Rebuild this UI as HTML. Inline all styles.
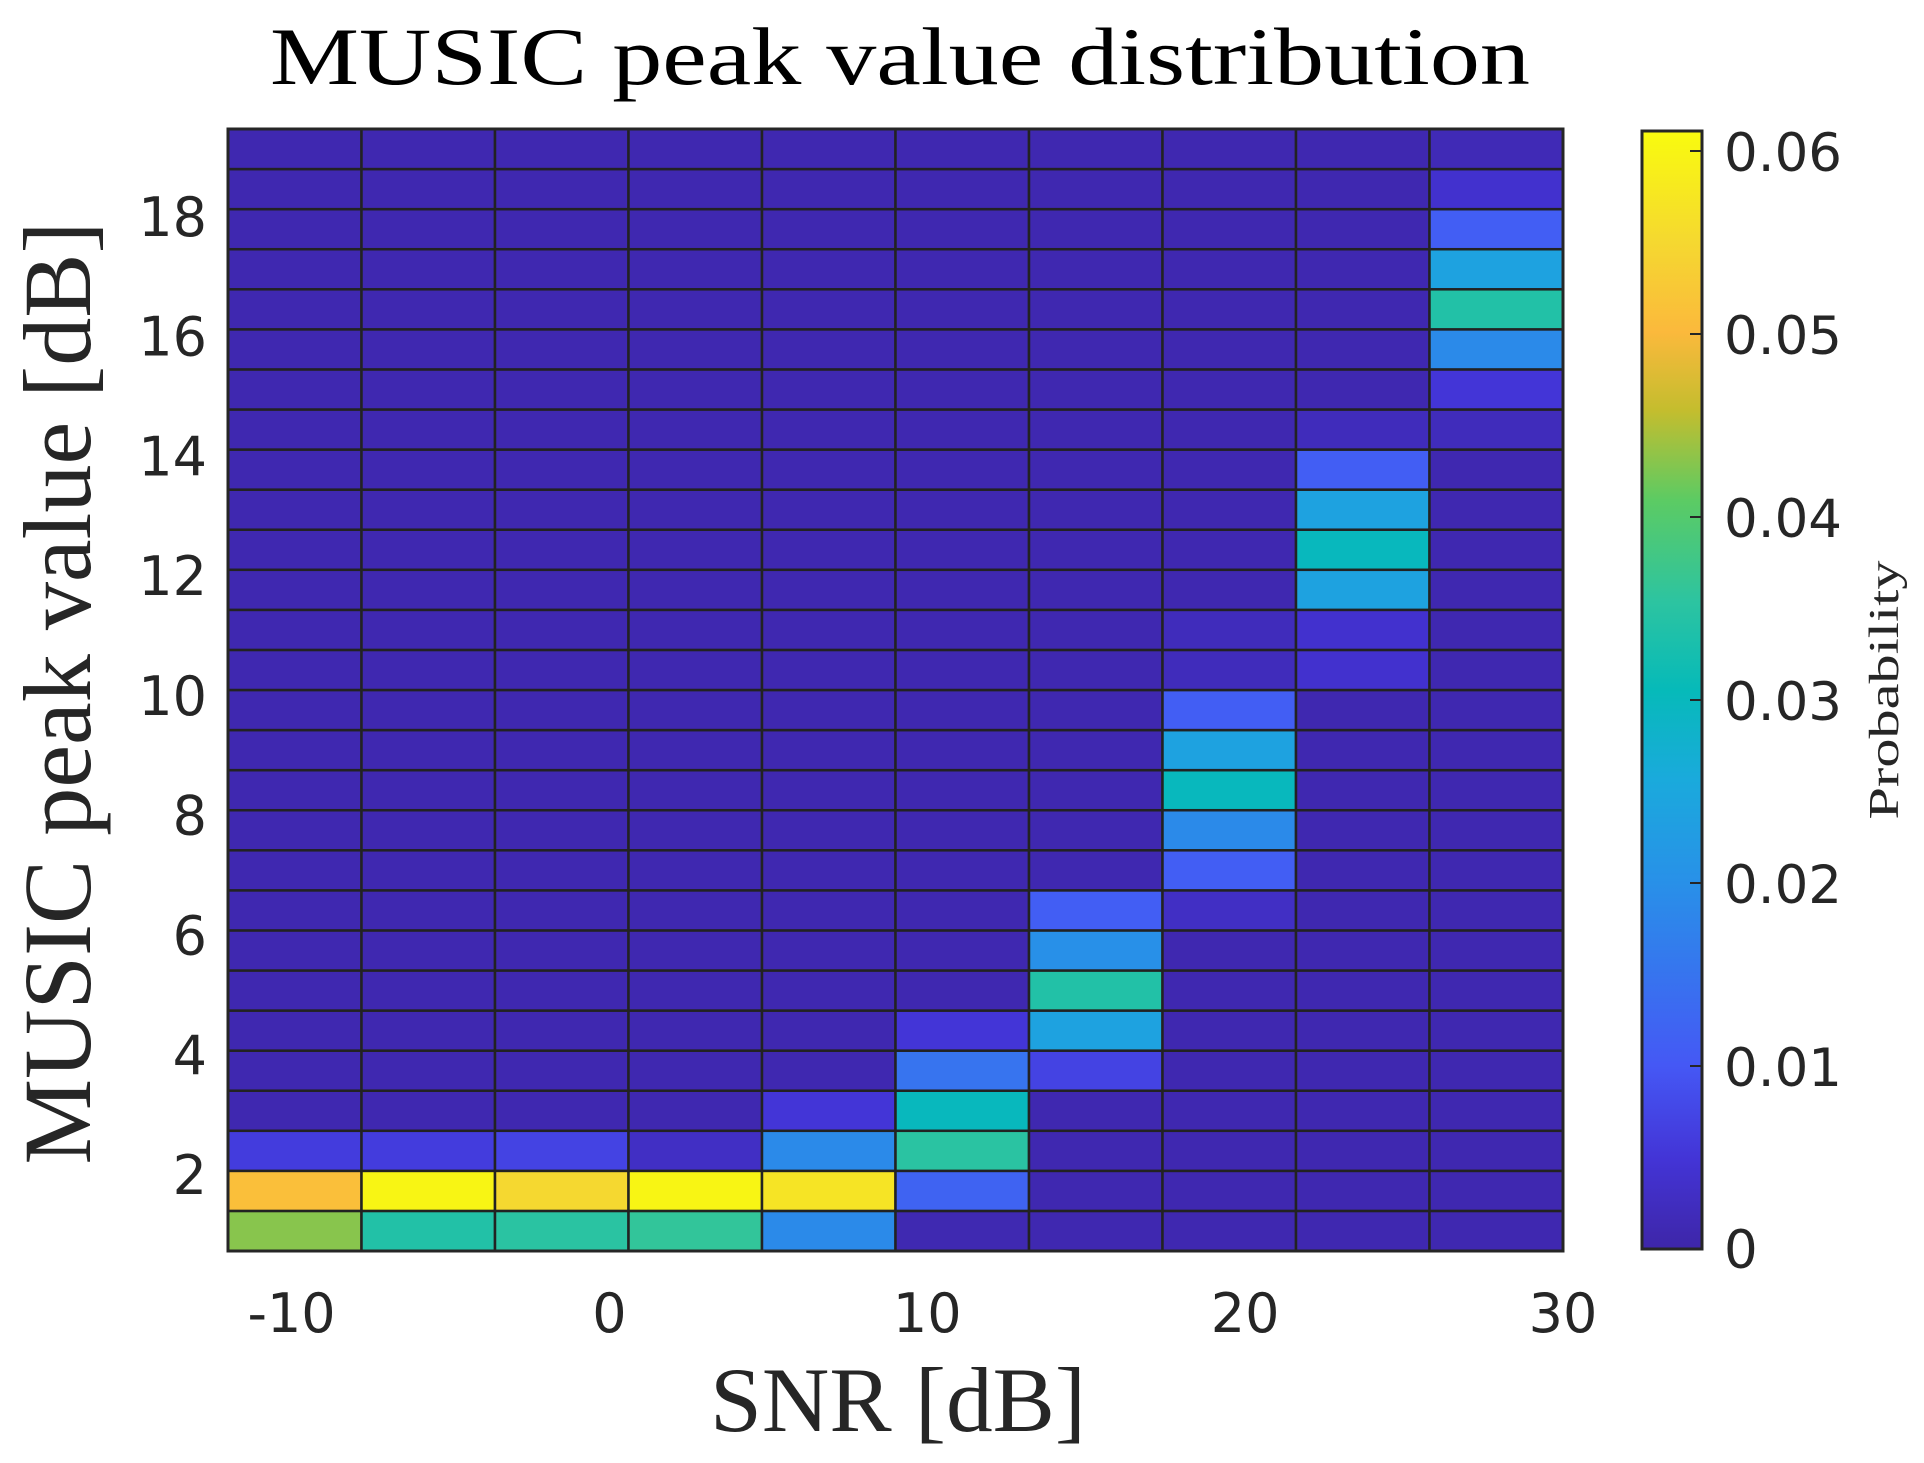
<!DOCTYPE html>
<html><head><meta charset="utf-8"><style>
html,body{margin:0;padding:0;background:#fff;}
svg{display:block;}
</style></head><body>
<svg id="chart" width="1924" height="1463" viewBox="0 0 1924 1463" xmlns="http://www.w3.org/2000/svg">
<defs>
<linearGradient id="cbgrad" x1="0" y1="1" x2="0" y2="0">
<stop offset="0" stop-color="#3e26a8"/><stop offset="0.08" stop-color="#4334d6"/><stop offset="0.164" stop-color="#4558f5"/><stop offset="0.33" stop-color="#2891e8"/><stop offset="0.42" stop-color="#1aaadc"/><stop offset="0.5" stop-color="#06bab9"/><stop offset="0.58" stop-color="#2dc4a0"/><stop offset="0.67" stop-color="#5ccb63"/><stop offset="0.75" stop-color="#c4bd2e"/><stop offset="0.82" stop-color="#fbb93c"/><stop offset="0.9" stop-color="#f5d830"/><stop offset="1" stop-color="#f9fb0e"/>
</linearGradient>
</defs>
<text x="900" y="84" text-anchor="middle" font-family="Liberation Serif, serif" font-size="82" textLength="1260" lengthAdjust="spacingAndGlyphs" fill="#000">MUSIC peak value distribution</text>
<g id="cells"></g>
<rect x="228" y="129" width="1335" height="1122" fill="none" stroke="#262626" stroke-width="3"/>
<g id="xticks"></g>
<g id="yticks"></g>
<text x="898" y="1431" text-anchor="middle" font-family="Liberation Serif, serif" font-size="92" textLength="376" lengthAdjust="spacingAndGlyphs" fill="#262626">SNR [dB]</text>
<text transform="translate(90,693) rotate(-90)" text-anchor="middle" font-family="Liberation Serif, serif" font-size="96" textLength="943" lengthAdjust="spacingAndGlyphs" fill="#262626">MUSIC peak value [dB]</text>
<rect x="1642" y="131" width="60" height="1118" fill="url(#cbgrad)" stroke="#262626" stroke-width="3"/>
<g id="cbticks"></g>
<text transform="translate(1898,690) rotate(-90)" text-anchor="middle" font-family="Liberation Serif, serif" font-size="42" textLength="259" lengthAdjust="spacingAndGlyphs" fill="#262626">Probability</text>
</svg>
<script>
const snrBins = [-10, -6, -2, 2, 6, 10, 14, 18, 22, 26];
const rowCount = 28;
const bg = 0.0008;
// non-background cells: [column, row-from-bottom, probability]
const hotCells = [
[0,0,0.043],[0,1,0.051],[0,2,0.006],
[1,0,0.034],[1,1,0.06],[1,2,0.006],
[2,0,0.035],[2,1,0.055],[2,2,0.007],
[3,0,0.036],[3,1,0.06],[3,2,0.003],
[4,0,0.019],[4,1,0.057],[4,2,0.019],[4,3,0.005],
[5,0,0.001],[5,1,0.012],[5,2,0.035],[5,3,0.030],[5,4,0.015],[5,5,0.005],
[6,4,0.007],[6,5,0.024],[6,6,0.034],[6,7,0.020],[6,8,0.011],
[7,8,0.003],[7,9,0.011],[7,10,0.019],[7,11,0.030],[7,12,0.024],[7,13,0.011],[7,14,0.002],[7,15,0.002],
[8,14,0.004],[8,15,0.004],[8,16,0.024],[8,17,0.030],[8,18,0.024],[8,19,0.011],[8,20,0.002],
[9,20,0.002],[9,21,0.005],[9,22,0.019],[9,23,0.034],[9,24,0.024],[9,25,0.011],[9,26,0.004],[9,27,0.0015]
];
const xTicks = [-10, 0, 10, 20, 30];
const yTicks = [2, 4, 6, 8, 10, 12, 14, 16, 18];
const cbTicks = [0, 0.01, 0.02, 0.03, 0.04, 0.05, 0.06];
const cbTickLabels = ["0", "0.01", "0.02", "0.03", "0.04", "0.05", "0.06"];

const NS = "http://www.w3.org/2000/svg";
const PL = 228, PR = 1563, PT = 129, PB = 1251;
const XMIN = -12, XMAX = 30, YMIN = 0.715, YMAX = 19.45, CMAX = 0.0611;
const xs = v => PL + (v - XMIN) / (XMAX - XMIN) * (PR - PL);
const ys = v => PB - (v - YMIN) / (YMAX - YMIN) * (PB - PT);
const cs = v => 1249 - v / 0.01 * 183;
const binW = (XMAX - XMIN) / snrBins.length;
const rowH = (YMAX - YMIN) / rowCount;

const stops = [[0,[62,38,168]],[0.08,[67,52,214]],[0.164,[69,88,245]],[0.33,[40,145,232]],[0.42,[26,170,220]],[0.5,[6,186,185]],[0.58,[45,196,160]],[0.67,[92,203,99]],[0.75,[196,189,46]],[0.82,[251,185,60]],[0.9,[245,216,48]],[1,[249,251,14]]];
function color(v){
  let t = Math.max(0, Math.min(1, v / CMAX));
  for (let i = 1; i < stops.length; i++) {
    if (t <= stops[i][0]) {
      const a = stops[i-1], b = stops[i], f = (t - a[0]) / (b[0] - a[0]);
      const c = a[1].map((x, k) => Math.round(x + (b[1][k] - x) * f));
      return `rgb(${c[0]},${c[1]},${c[2]})`;
    }
  }
  return "rgb(249,251,14)";
}

const grid = [];
for (let c = 0; c < snrBins.length; c++) { grid.push(new Array(rowCount).fill(bg)); }
hotCells.forEach(h => { grid[h[0]][h[1]] = h[2]; });

const cellsG = document.getElementById('cells');
for (let c = 0; c < snrBins.length; c++) {
  for (let r = 0; r < rowCount; r++) {
    const x0 = xs(XMIN + c * binW), x1 = xs(XMIN + (c + 1) * binW);
    const y1 = ys(YMIN + r * rowH), y0 = ys(YMIN + (r + 1) * rowH);
    const rect = document.createElementNS(NS, 'rect');
    rect.setAttribute('x', x0); rect.setAttribute('y', y0);
    rect.setAttribute('width', x1 - x0); rect.setAttribute('height', y1 - y0);
    rect.setAttribute('fill', color(grid[c][r]));
    rect.setAttribute('stroke', '#222'); rect.setAttribute('stroke-width', '2.5');
    
    
    cellsG.appendChild(rect);
  }
}

const xg = document.getElementById('xticks');
xTicks.forEach(v => {
  const t = document.createElementNS(NS, 'text');
  t.setAttribute('x', xs(v)); t.setAttribute('y', 1332);
  t.setAttribute('text-anchor', 'middle');
  t.setAttribute('font-family', 'DejaVu Sans, sans-serif'); t.setAttribute('font-size', '54');
  t.setAttribute('fill', '#262626');
  t.textContent = String(v);
  
  
  xg.appendChild(t);
});
const yg = document.getElementById('yticks');
yTicks.forEach(v => {
  const t = document.createElementNS(NS, 'text');
  t.setAttribute('x', 207); t.setAttribute('y', ys(v) + 20);
  t.setAttribute('text-anchor', 'end');
  t.setAttribute('font-family', 'DejaVu Sans, sans-serif'); t.setAttribute('font-size', '54');
  t.setAttribute('fill', '#262626');
  t.textContent = String(v);
  
  
  yg.appendChild(t);
});
const cg = document.getElementById('cbticks');
cbTicks.forEach((v, i) => {
  const l = document.createElementNS(NS, 'line');
  l.setAttribute('x1', 1690); l.setAttribute('x2', 1702);
  l.setAttribute('y1', cs(v)); l.setAttribute('y2', cs(v));
  l.setAttribute('stroke', '#262626'); l.setAttribute('stroke-width', '2');
  
  
  cg.appendChild(l);
  const t = document.createElementNS(NS, 'text');
  t.setAttribute('x', 1724); t.setAttribute('y', Math.min(cs(v) + 20, 1268));
  t.setAttribute('font-family', 'DejaVu Sans, sans-serif'); t.setAttribute('font-size', '53');
  t.setAttribute('fill', '#262626');
  t.textContent = cbTickLabels[i];
  
  
  cg.appendChild(t);
});
</script>
</body></html>
